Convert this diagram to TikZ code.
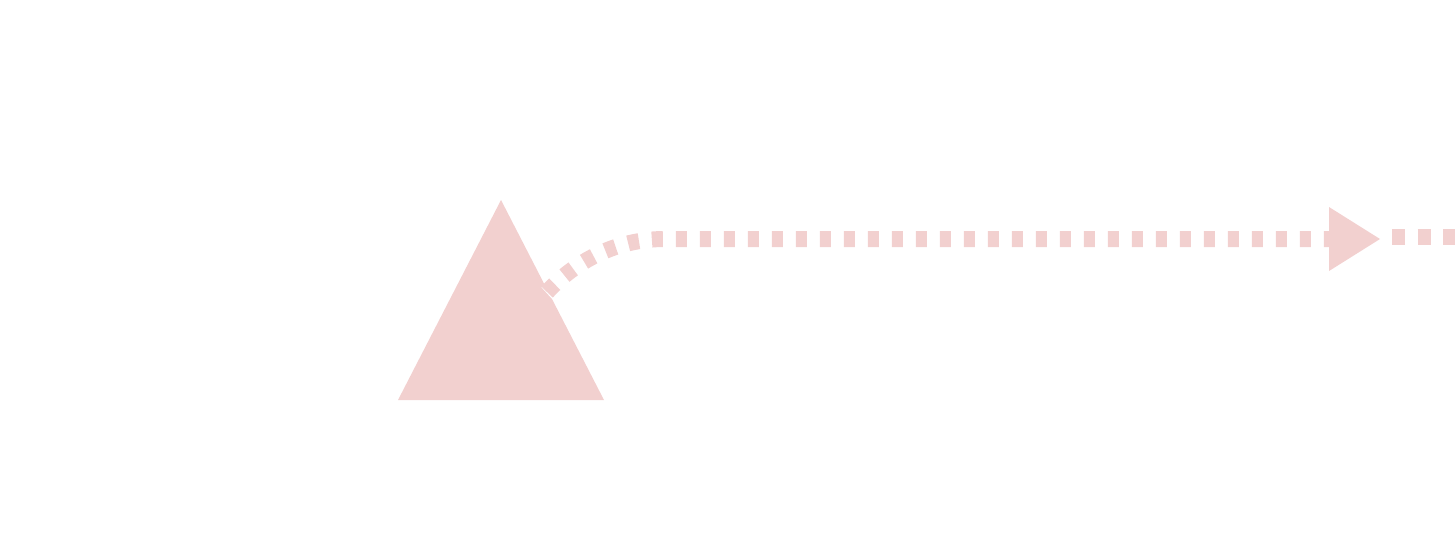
\documentclass[tikz,border=0pt]{standalone}
\usetikzlibrary{arrows.meta}
\definecolor{pinkfill}{RGB}{242,208,207}
\tikzset{
  dotline/.style={draw=pinkfill, line width=16pt, dash pattern=on 11pt off 13pt},
  tailline/.style={draw=pinkfill, line width=16pt, dash pattern=on 13pt off 12.5pt},
  bigtip/.style={-{Triangle[length=51pt 0 0, width=64pt 0 0, line width=0pt, fill=pinkfill]}}
}
\begin{document}
\begin{tikzpicture}[x=1pt,y=-1pt]
\useasboundingbox (0,0) rectangle (1455,550);
\coordinate (apex) at (501,200);
\coordinate (bl) at (398,400);
\coordinate (br) at (604,400);
\fill[pinkfill] (apex) -- (br) -- (bl) -- cycle;
\coordinate (start) at (547,292);
\coordinate (bend) at (665,239);
\coordinate (tipend) at (1380,239);
\coordinate (tailstart) at (1392,237);
\coordinate (tailend) at (1470,237);
\draw[white, line width=4pt] (543,286) -- (553,297);
\draw[dotline, bigtip] (start) .. controls (575,262) and (615,239) .. (bend) -- (tipend);
\draw[tailline] (tailstart) -- (tailend);
\end{tikzpicture}
\end{document}
